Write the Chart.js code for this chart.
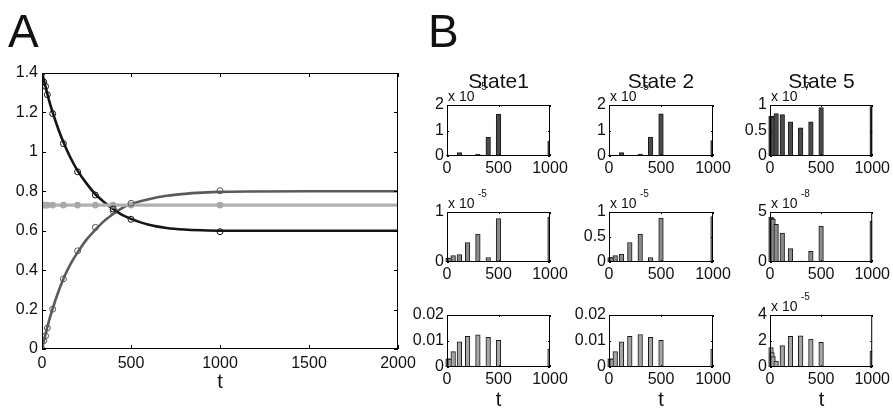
<!DOCTYPE html>
<html><head><meta charset="utf-8">
<script src="https://cdn.jsdelivr.net/npm/chart.js@4/dist/chart.umd.min.js"></script>
<style>
html,body{margin:0;padding:0;background:#fff;}
#wrap{position:relative;width:893px;height:411px;overflow:hidden;font-family:"Liberation Sans",Arial,sans-serif;color:#111;background:#fff;}
#wrap canvas{position:absolute;left:0;top:0;}
.t{position:absolute;white-space:nowrap;}
</style></head><body><div id="wrap"></div>
<script>
// ================= DATA =================
// Panel A: smooth model curves
const curveTimes  = [0, 20, 40, 60, 90, 120, 160, 200, 250, 300, 350, 400, 450, 500, 600, 700, 800, 900, 1000, 1200, 1500, 2000];
const curveDark   = [1.40, 1.33, 1.26, 1.20, 1.12, 1.05, 0.97, 0.905, 0.84, 0.785, 0.745, 0.71, 0.68, 0.66, 0.63, 0.614, 0.606, 0.602, 0.600, 0.600, 0.600, 0.600];
const curveMid    = [0.00, 0.075, 0.145, 0.205, 0.285, 0.355, 0.43, 0.49, 0.555, 0.605, 0.65, 0.685, 0.715, 0.735, 0.76, 0.777, 0.787, 0.793, 0.797, 0.799, 0.800, 0.800];
const flatTimes   = [0, 2000];
const curveLight  = [0.73, 0.73];
// Panel A: simulated samples (markers)
const sampleTimes   = [0, 10, 20, 30, 60, 120, 200, 300, 400, 500, 1000];
const samplesDark   = [1.40, 1.354, 1.332, 1.29, 1.194, 1.042, 0.899, 0.781, 0.71, 0.658, 0.595];
const samplesMid    = [0.00, 0.042, 0.067, 0.106, 0.202, 0.356, 0.498, 0.617, 0.70, 0.739, 0.803];
const samplesLight  = [0.73, 0.73, 0.73, 0.73, 0.73, 0.73, 0.73, 0.73, 0.73, 0.73, 0.73];
const xTicksA = [0, 500, 1000, 1500, 2000];
const yTicksA = [0, 0.2, 0.4, 0.6, 0.8, 1, 1.2, 1.4];

// Panel B: bar histograms, values in the units shown on each axis
const barTimes = [10, 20, 30, 60, 120, 200, 300, 400, 500, 1000];
const state1Row1 = [0.02, 0.02, 0.02, 0.03, 0.13, 0.02, 0.08, 0.73, 1.63, 0.59];
const state2Row1 = [0.02, 0.02, 0.02, 0.03, 0.13, 0.02, 0.08, 0.74, 1.65, 0.60];
const state5Row1 = [0.78, 0.78, 0.77, 0.83, 0.81, 0.67, 0.55, 0.67, 0.95, 0.97];
const state1Row2 = [0.08, 0.08, 0.08, 0.13, 0.15, 0.39, 0.56, 0.09, 0.87, 0.90];
const state2Row2 = [0.09, 0.09, 0.09, 0.13, 0.16, 0.39, 0.56, 0.09, 0.88, 0.91];
const state5Row2 = [4.5, 4.4, 4.3, 3.77, 2.9, 1.33, 0.1, 1.07, 3.6, 4.1];
const state1Row3 = [0.0031, 0.0031, 0.003, 0.0059, 0.0097, 0.0118, 0.0124, 0.0114, 0.0103, 0.0068];
const state2Row3 = [0.0031, 0.0031, 0.003, 0.0059, 0.0097, 0.0118, 0.0125, 0.0114, 0.0103, 0.0068];
const state5Row3 = [1.5, 1.1, 0.8, 0.45, 1.65, 2.35, 2.4, 2.15, 1.9, 1.2];
const barXTicks = [0, 500, 1000];
const yTicksS1R1 = [0, 1, 2];
const yTicksS2R1 = [0, 1, 2];
const yTicksS5R1 = [0, 0.5, 1];
const yTicksS1R2 = [0, 1];
const yTicksS2R2 = [0, 0.5, 1];
const yTicksS5R2 = [0, 5];
const yTicksS1R3 = [0, 0.01, 0.02];
const yTicksS2R3 = [0, 0.01, 0.02];
const yTicksS5R3 = [0, 2, 4];
const stateTitles = ["State1", "State 2", "State 5"];
const exponentsRow1 = ["-5", "-5", "-7"];
const exponentsRow2 = ["-5", "-5", "-8"];
const exponentsRow3 = [null, null, "-5"];

// ================= LAYOUT / STYLE =================
const W = 893, H = 411;
const FONT = '"Liberation Sans", Arial, Helvetica, sans-serif';
const wrap = document.getElementById('wrap');

function addCanvas() {
  const c = document.createElement('canvas');
  c.width = W; c.height = H; c.style.width = W + 'px'; c.style.height = H + 'px';
  wrap.appendChild(c);
  return c;
}
function txt(s, x, base, size, align) {
  const d = document.createElement('div');
  d.className = 't';
  d.style.fontSize = size + 'px';
  d.style.lineHeight = size + 'px';
  d.style.top = (base - 0.8465 * size) + 'px';
  d.textContent = s;
  if (align === 'center') { d.style.left = x + 'px'; d.style.transform = 'translateX(-50%)'; }
  else d.style.left = x + 'px';
  wrap.appendChild(d);
  return d;
}

const boxPlugin = {
  id: 'mbox',
  afterDatasetsDraw(chart, args, opts) {
    const { ctx, chartArea: a, scales } = chart;
    const x = scales.x, y = scales.y;
    const len = opts.len || 4;
    ctx.save();
    ctx.strokeStyle = '#000';
    ctx.lineWidth = 1;
    ctx.beginPath();
    x.ticks.forEach(t => {
      const p = Math.round(x.getPixelForValue(t.value)) + 0.5;
      ctx.moveTo(p, a.bottom); ctx.lineTo(p, a.bottom - len);
      ctx.moveTo(p, a.top); ctx.lineTo(p, a.top + len);
    });
    y.ticks.forEach(t => {
      const p = Math.round(y.getPixelForValue(t.value)) + 0.5;
      ctx.moveTo(a.left, p); ctx.lineTo(a.left + len, p);
      ctx.moveTo(a.right, p); ctx.lineTo(a.right - len, p);
    });
    ctx.stroke();
    ctx.strokeRect(a.left + 0.5, a.top + 0.5, a.right - a.left - 1, a.bottom - a.top - 1);
    ctx.restore();
  }
};

function axis(min, max, ticks, cfg) {
  return {
    type: 'linear', min: min, max: max, offset: false,
    grid: { display: false, drawTicks: false },
    border: { display: false },
    afterBuildTicks: s => { s.ticks = ticks.map(v => ({ value: v })); },
    afterFit: cfg.fit,
    ticks: {
      autoSkip: false, maxRotation: 0, minRotation: 0, padding: cfg.pad,
      color: '#111', font: { family: FONT, size: cfg.size },
      callback: v => String(v)
    }
  };
}

// ---------- Panel A ----------
(function () {
  const L = 42, R = 398, T = 73, B = 349, yw = 40, xh = 30;
  const pts = (xs, ys) => xs.map((t, i) => ({ x: t, y: ys[i] }));
  new Chart(addCanvas(), {
    type: 'line',
    data: {
      datasets: [
        { data: pts(sampleTimes, samplesDark), showLine: false, pointRadius: 3, pointBorderWidth: 1,
          pointBorderColor: '#111', pointBackgroundColor: 'rgba(0,0,0,0)', order: 0 },
        { data: pts(sampleTimes, samplesMid), showLine: false, pointRadius: 3, pointBorderWidth: 1,
          pointBorderColor: '#555', pointBackgroundColor: 'rgba(0,0,0,0)', order: 0 },
        { data: pts(sampleTimes, samplesLight), showLine: false, pointRadius: 3.4, pointBorderWidth: 0,
          pointBackgroundColor: '#a8a8a8', order: 0 },
        { data: pts(flatTimes, curveLight), borderColor: '#b0b0b0', borderWidth: 3.3, pointRadius: 0, order: 1 },
        { data: pts(curveTimes, curveDark), borderColor: '#151515', borderWidth: 2.6, pointRadius: 0,
          cubicInterpolationMode: 'monotone', order: 2 },
        { data: pts(curveTimes, curveMid), borderColor: '#5a5a5a', borderWidth: 2.6, pointRadius: 0,
          cubicInterpolationMode: 'monotone', order: 2 }
      ]
    },
    options: {
      responsive: false, animation: false, devicePixelRatio: 1,
      layout: { padding: { left: L - yw, top: T, right: W - R, bottom: H - B - xh } },
      plugins: { legend: { display: false }, tooltip: { enabled: false }, mbox: { len: 4 } },
      scales: {
        x: axis(0, 2000, xTicksA, { fit: s => { s.height = xh; }, pad: 5, size: 16 }),
        y: axis(0, 1.4, yTicksA, { fit: s => { s.width = yw; }, pad: 4, size: 16 })
      }
    },
    plugins: [boxPlugin]
  });
  txt('t', 220, 388, 20, 'center');
  txt('A', 8, 47, 46, 'left');
})();

// ---------- Panel B ----------
const colL = [447, 609, 770], colR = [550, 713, 873];
const rowT = [105, 212, 315], rowB = [156, 262, 367];
const rowFill = ['#4a4a4a', '#8a8a8a', '#a6a6a6'];
const panels = [
  [state1Row1, yTicksS1R1, 2, exponentsRow1[0]], [state2Row1, yTicksS2R1, 2, exponentsRow1[1]], [state5Row1, yTicksS5R1, 1, exponentsRow1[2]],
  [state1Row2, yTicksS1R2, 1, exponentsRow2[0]], [state2Row2, yTicksS2R2, 1, exponentsRow2[1]], [state5Row2, yTicksS5R2, 5, exponentsRow2[2]],
  [state1Row3, yTicksS1R3, 0.02, exponentsRow3[0]], [state2Row3, yTicksS2R3, 0.02, exponentsRow3[1]], [state5Row3, yTicksS5R3, 4, exponentsRow3[2]]
];
panels.forEach((p, k) => {
  const r = Math.floor(k / 3), c = k % 3;
  const L = colL[c], R = colR[c], T = rowT[r], B = rowB[r], yw = 40, xh = 30;
  new Chart(addCanvas(), {
    type: 'bar',
    data: { datasets: [{
      data: barTimes.map((t, i) => ({ x: t, y: p[0][i] })),
      backgroundColor: rowFill[r], borderColor: '#1a1a1a', borderWidth: 1, borderSkipped: false,
      barThickness: 4.6, clip: { left: false, top: false, right: 0, bottom: 0 }
    }] },
    options: {
      responsive: false, animation: false, devicePixelRatio: 1,
      layout: { padding: { left: L - yw, top: T, right: W - R, bottom: H - B - xh } },
      plugins: { legend: { display: false }, tooltip: { enabled: false }, mbox: { len: 2 } },
      scales: {
        x: axis(0, 1000, barXTicks, { fit: s => { s.height = xh; }, pad: 3, size: 16 }),
        y: axis(0, p[2], p[1], { fit: s => { s.width = yw; }, pad: 3, size: 16 })
      }
    },
    plugins: [boxPlugin]
  });
  if (p[3]) {
    txt('x 10', L + 1, T - 4, 14, 'left');
    txt(p[3], L + 31, T - 15, 10, 'left');
  }
  if (r === 2) txt('t', (L + R) / 2, 406, 20, 'center');
});
stateTitles.forEach((s, c) => txt(s, (colL[c] + colR[c]) / 2, 88, 21, 'center'));
txt('B', 428, 47, 46, 'left');
</script>
</body></html>
